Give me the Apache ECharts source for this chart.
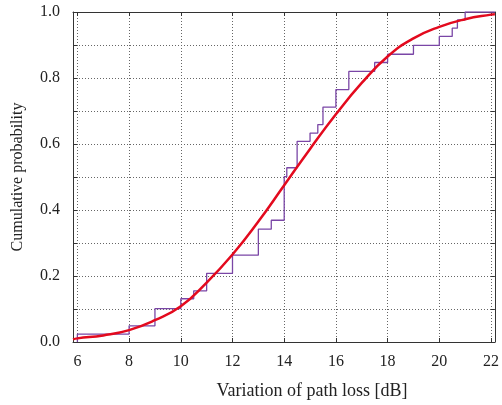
<!DOCTYPE html>
<html><head><meta charset="utf-8">
<script src="https://cdn.jsdelivr.net/npm/echarts@6/dist/echarts.min.js"></script>
<style>html,body{margin:0;padding:0;background:#fff}#c{width:502px;height:405px}</style>
</head><body><div id="c"></div>
<script>
var stepX = [6, 6, 8, 9, 10, 10.5, 11, 12, 13, 13.5, 14, 14.1, 14.5, 15, 15.3, 15.5, 16, 16.5, 17.5, 18, 19, 20, 20.5, 20.7, 21, 22.15];
var stepP = [0, 0.024, 0.049, 0.101, 0.131, 0.155, 0.208, 0.263, 0.342, 0.369, 0.501, 0.528, 0.608, 0.633, 0.659, 0.712, 0.765, 0.82, 0.847, 0.872, 0.899, 0.926, 0.951, 0.976, 1.0, 1.0];
// Fitted CDF curve
var fitX = [5.83, 6, 7, 8, 9, 10, 11, 12, 13, 14, 15, 16, 17, 18, 19, 20, 21, 22, 22.15];
var fitP = [0.008, 0.011, 0.02, 0.036, 0.066, 0.108, 0.18, 0.265, 0.365, 0.475, 0.585, 0.69, 0.785, 0.865, 0.92, 0.955, 0.978, 0.992, 0.993];
var xTicks = [6, 8, 10, 12, 14, 16, 18, 20, 22];

var font = 'Liberation Serif';
var lineCol = '#333';
var gridStyle = {color: '#666', width: 1, type: [1, 2]};

var stepData = stepX.map(function (x, i) { return [x, stepP[i]]; });
var fitData = fitX.map(function (x, i) { return [x, fitP[i]]; });

var chart = echarts.init(document.getElementById('c'), null, {renderer: 'canvas'});
chart.setOption({
  animation: false,
  backgroundColor: '#fff',
  grid: {left: 73, right: 0, top: 12, bottom: 57, containLabel: false},
  xAxis: [{
    type: 'value', min: 5.83, max: 22.15,
    axisLine: {show: true, lineStyle: {color: lineCol, width: 1}},
    axisTick: {show: true, inside: true, length: 4, customValues: xTicks, lineStyle: {color: lineCol}},
    axisLabel: {customValues: xTicks, fontFamily: font, fontSize: 16, color: '#222', margin: 12,
      formatter: function (v) { return String(v); }},
    splitLine: {show: true, lineStyle: gridStyle},
    name: 'Variation of path loss [dB]', nameLocation: 'middle', nameGap: 40,
    nameTextStyle: {fontFamily: font, fontSize: 18, color: '#222', padding: [0, 0, 0, 56]}
  }, {
    type: 'value', position: 'top', min: 5.83, max: 22.15,
    axisLine: {show: true, onZero: false, lineStyle: {color: lineCol, width: 1}},
    axisTick: {show: true, inside: true, length: 4, customValues: xTicks, lineStyle: {color: lineCol}},
    axisLabel: {show: false}, splitLine: {show: false}
  }],
  yAxis: [{
    type: 'value', min: 0, max: 1, interval: 0.1,
    axisLine: {show: true, lineStyle: {color: lineCol, width: 1}},
    axisTick: {show: true, inside: true, length: 4, lineStyle: {color: lineCol}},
    axisLabel: {fontFamily: font, fontSize: 16, color: '#222', margin: 13,
      formatter: function (v) {
        var k = Math.round(v * 10);
        return k % 2 === 0 ? (k / 10).toFixed(1) : '';
      }},
    splitLine: {show: true, lineStyle: gridStyle},
    name: 'Cumulative probability', nameLocation: 'middle', nameGap: 47,
    nameTextStyle: {fontFamily: font, fontSize: 16, color: '#222'}
  }, {
    type: 'value', position: 'right', min: 0, max: 1, interval: 0.1,
    axisLine: {show: true, onZero: false, lineStyle: {color: lineCol, width: 1}},
    axisTick: {show: true, inside: true, length: 4, lineStyle: {color: lineCol}},
    axisLabel: {show: false}, splitLine: {show: false}
  }],
  series: [{
    type: 'line', data: stepData, step: 'end', symbol: 'none',
    lineStyle: {color: '#7a46a6', width: 1.3}, z: 3
  }, {
    type: 'line', data: fitData, smooth: true, symbol: 'none',
    lineStyle: {color: '#e30a1e', width: 2.5}, z: 4
  }]
});
</script></body></html>
